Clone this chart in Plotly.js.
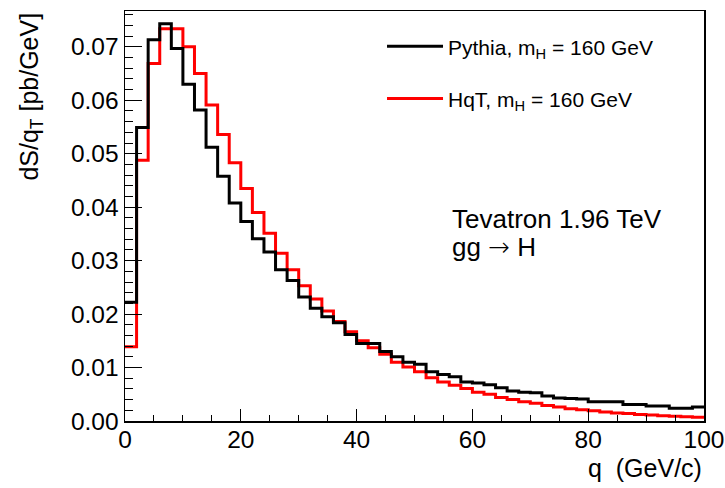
<!DOCTYPE html>
<html>
<head>
<meta charset="utf-8">
<script src="https://cdn.plot.ly/plotly-3.0.1.min.js"></script>
<style>html,body{margin:0;padding:0;background:#fff}#chart{width:725px;height:488px}</style>
</head>
<body>
<div id="chart"></div>
<script>
// Bin edges (GeV/c), 2 GeV bins from 0 to 100
const binEdges = [0,2,4,6,8,10,12,14,16,18,20,22,24,26,28,30,32,34,36,38,40,42,44,46,48,50,52,54,56,58,60,62,64,66,68,70,72,74,76,78,80,82,84,86,88,90,92,94,96,98,100];

// Pythia, mH = 160 GeV (black)
const pythiaValues = [0.0222,0.0549,0.0713,0.0743,0.0697,0.0630,0.0582,0.0512,0.0458,0.0408,
  0.0373,0.0341,0.0316,0.0283,0.0263,0.0232,0.0211,0.0195,0.0184,0.0162,
  0.0145,0.0145,0.0130,0.0120,0.0110,0.0106,0.0092,0.0087,0.0083,0.0073,
  0.0071,0.0068,0.0062,0.0056,0.0054,0.0053,0.0047,0.0043,0.0042,0.0041,
  0.0036,0.0036,0.0036,0.0031,0.0031,0.0028,0.0028,0.0024,0.0024,0.0026];

// HqT, mH = 160 GeV (red)
const hqtValues = [0.0139,0.0488,0.0669,0.0734,0.0734,0.0700,0.0650,0.0591,0.0536,0.0483,
  0.0435,0.0390,0.0351,0.0314,0.0283,0.0253,0.0228,0.0206,0.0186,0.0167,
  0.0150,0.0137,0.0125,0.0110,0.0101,0.0092,0.0081,0.0073,0.0067,0.0061,
  0.0054,0.0050,0.0044,0.0040,0.0036,0.0033,0.0029,0.0026,0.0023,0.0021,
  0.0019,0.0017,0.0015,0.0014,0.0012,0.0011,0.0010,0.0009,0.0008,0.0007];

const xTickVals = [0,20,40,60,80,100];
const xTickText = ["0","20","40","60","80","100"];
const yTickVals = [0,0.01,0.02,0.03,0.04,0.05,0.06,0.07];
const yTickText = ["0.00","0.01","0.02","0.03","0.04","0.05","0.06","0.07"];

const FONT = "Liberation Sans, Arial, Helvetica, sans-serif";

function stepY(vals){ return vals.concat([vals[vals.length-1]]); }

const traces = [
  {
    x: binEdges, y: stepY(hqtValues), type: 'scatter', mode: 'lines',
    line: {shape: 'hv', color: '#ff0000', width: 3},
    name: 'HqT, m<sub>H</sub> = 160 GeV', legendrank: 2, legendgroup: 'b',
    hoverinfo: 'skip'
  },
  {
    x: binEdges, y: stepY(pythiaValues), type: 'scatter', mode: 'lines',
    line: {shape: 'hv', color: '#000000', width: 3},
    name: 'Pythia, m<sub>H</sub> = 160 GeV', legendrank: 1, legendgroup: 'a',
    hoverinfo: 'skip'
  }
];

const layout = {
  width: 725, height: 488,
  margin: {l: 125, r: 21, t: 11, b: 67, pad: 0},
  paper_bgcolor: '#fff', plot_bgcolor: '#fff',
  font: {family: FONT, color: '#000', size: 24},
  showlegend: true,
  legend: {
    x: 0.4439, y: 0.963, xanchor: 'left', yanchor: 'top',
    bgcolor: 'rgba(0,0,0,0)', borderwidth: 0,
    font: {family: FONT, size: 21, color: '#000'},
    tracegroupgap: 22, itemwidth: 56
  },
  xaxis: {
    range: [0, 100], tickvals: xTickVals, ticktext: xTickText,
    ticks: 'inside', ticklen: 12, tickwidth: 1, tickcolor: '#000',
    minor: {dtick: 5, ticks: 'inside', ticklen: 6, tickwidth: 1, tickcolor: '#000'},
    showline: true, linecolor: '#000', linewidth: 1.5, mirror: true,
    showgrid: false, zeroline: false, ticklabelstandoff: -4,
    tickfont: {family: FONT, size: 24.5}
  },
  yaxis: {
    range: [0, 0.0767], tickvals: yTickVals, ticktext: yTickText,
    ticks: 'inside', ticklen: 17, tickwidth: 1, tickcolor: '#000',
    minor: {dtick: 0.002, ticks: 'inside', ticklen: 8, tickwidth: 1, tickcolor: '#000'},
    showline: true, linecolor: '#000', linewidth: 1.5, mirror: true,
    showgrid: false, zeroline: false,
    tickfont: {family: FONT, size: 24.5}
  },
  annotations: [
    {text: 'dS/q<sub>T</sub> [pb/GeV]', xref: 'paper', yref: 'paper', x: -0.163, y: 1.0,
     xanchor: 'center', yanchor: 'top', textangle: -90, showarrow: false,
     font: {family: FONT, size: 25}},
    {text: 'q&nbsp;&nbsp;(GeV/c)', xref: 'paper', yref: 'paper', x: 1.0, y: -0.1155,
     xanchor: 'right', yanchor: 'middle', showarrow: false,
     font: {family: FONT, size: 25}},
    {text: 'Tevatron 1.96 TeV', xref: 'paper', yref: 'paper', x: 0.562, y: 0.4923,
     xanchor: 'left', yanchor: 'middle', showarrow: false,
     font: {family: FONT, size: 26}},
    {text: 'gg <span style="font-family:DejaVu Sans;font-weight:200">\u2192</span> H', xref: 'paper', yref: 'paper', x: 0.562, y: 0.4252,
     xanchor: 'left', yanchor: 'middle', showarrow: false,
     font: {family: FONT, size: 26}}
  ]
};

Plotly.newPlot('chart', traces, layout, {displayModeBar: false, staticPlot: true});
</script>
</body>
</html>
